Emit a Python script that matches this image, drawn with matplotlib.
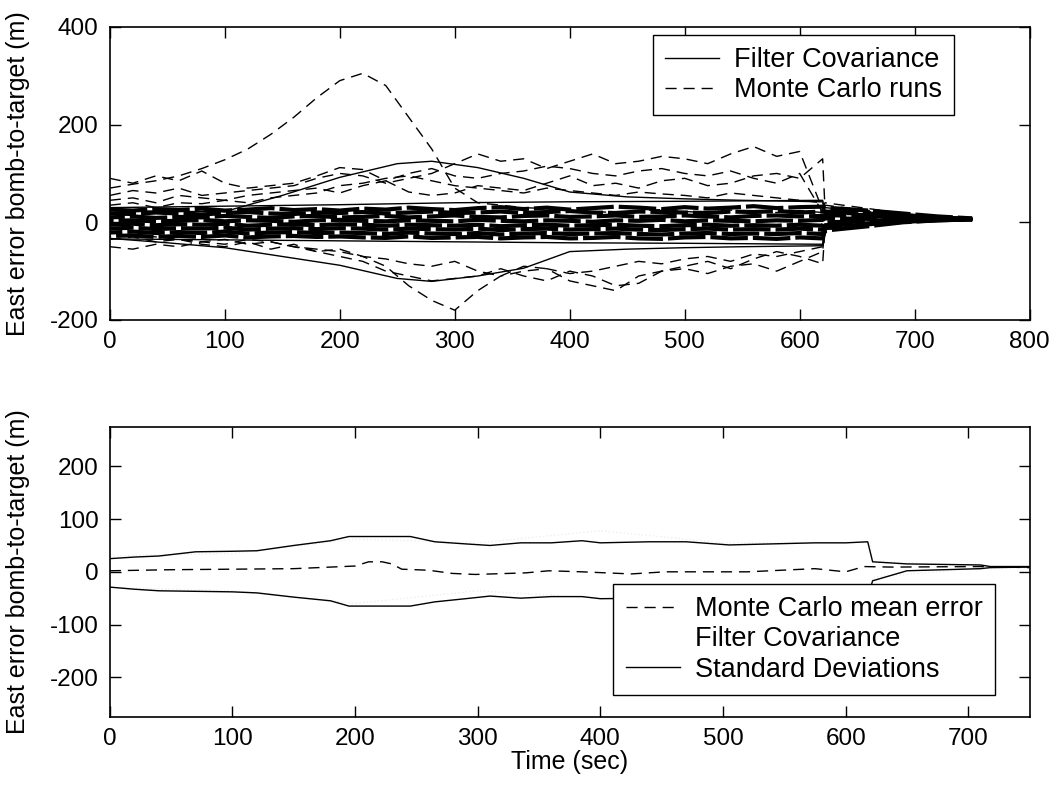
import matplotlib
matplotlib.use('Agg')
import matplotlib.pyplot as plt
from matplotlib.lines import Line2D

plt.rcParams['font.family'] = ['Liberation Sans', 'DejaVu Sans']
plt.rcParams['font.size'] = 16
plt.rcParams['axes.unicode_minus'] = False

# ---------------- top panel data ----------------
# time grid for the Monte Carlo runs (0..620 s, then the tail to 750 s)
t_run = [0, 20, 40, 60, 80, 100, 120, 140, 160, 180, 200, 220, 240, 260, 280, 300,
         320, 340, 360, 380, 400, 420, 440, 460, 480, 500, 520, 540, 560, 580, 600, 620,
         622, 660, 690, 720, 750]

run_peak = [70, 78, 85, 95, 110, 128, 150, 180, 215, 255, 290, 305, 280, 215, 150, 70,
            40, 35, 30, 28, 25, 22, 20, 24, 26, 22, 20, 25, 22, 20, 24, 20,
            18, 14, 11, 8, 6]
run_hi1 = [90, 80, 95, 85, 105, 80, 70, 75, 80, 95, 112, 108, 85, 62, 55, 60,
           75, 70, 65, 80, 95, 75, 80, 70, 85, 90, 75, 80, 95, 100, 90, 130,
           30, 22, 15, 10, 7]
run_hi2 = [55, 65, 60, 70, 55, 60, 65, 70, 75, 90, 100, 95, 80, 90, 100, 120,
           140, 125, 130, 110, 125, 140, 120, 125, 135, 130, 120, 140, 155, 135, 145, 25,
           40, 28, 18, 12, 8]
run_hi3 = [45, 50, 40, 55, 50, 45, 55, 60, 65, 70, 60, 75, 85, 100, 110, 95,
           90, 100, 105, 115, 110, 100, 95, 105, 110, 100, 95, 105, 90, 80, 100, 20,
           25, 20, 14, 10, 6]
run_hi4 = [35, 40, 30, 40, 38, 45, 40, 50, 55, 60, 75, 80, 90, 95, 85, 75,
           70, 65, 60, 70, 65, 60, 55, 62, 58, 55, 50, 60, 55, 50, 45, 40,
           35, 24, 16, 10, 6]
run_lo1 = [-50, -55, -45, -50, -40, -45, -35, -40, -50, -60, -70, -80, -100, -110, -120, -115,
           -110, -95, -110, -120, -100, -110, -130, -125, -100, -90, -80, -95, -75, -60, -70, -85,
           -15, -5, 2, 5, 7]
run_lo2 = [-35, -30, -40, -35, -45, -50, -40, -55, -45, -60, -55, -70, -90, -130, -160, -180,
           -140, -110, -100, -95, -105, -100, -90, -80, -85, -75, -70, -80, -65, -70, -60, -50,
           -12, -4, 3, 6, 8]
run_lo3 = [-20, -25, -30, -35, -40, -35, -45, -40, -50, -55, -60, -70, -75, -85, -90, -80,
           -100, -110, -90, -95, -120, -130, -140, -110, -100, -95, -105, -90, -85, -100, -80, -60,
           -10, -2, 4, 6, 7]
# runs packed into the dark band around zero
band1 = [26, 24, 27, 25, 28, 24, 26, 29, 25, 27, 24, 28, 26, 30, 27, 25,
         29, 31, 27, 30, 26, 29, 32, 30, 27, 31, 28, 30, 33, 29, 31, 32,
         30, 24, 18, 12, 8]
band2 = [18, 17, 20, 18, 16, 19, 21, 18, 17, 20, 19, 21, 18, 20, 22, 19,
         20, 22, 19, 21, 23, 20, 19, 22, 21, 20, 19, 22, 21, 23, 20, 22,
         22, 18, 14, 10, 7]
band3 = [10, 12, 9, 11, 10, 13, 11, 9, 12, 13, 10, 11, 13, 10, 12, 14,
         11, 10, 13, 14, 11, 12, 14, 11, 12, 14, 12, 10, 13, 14, 12, 13,
         15, 12, 10, 8, 7]
band4 = [3, 4, 2, 3, 5, 2, 4, 3, 1, 4, 5, 3, 2, 4, 3, 2,
         5, 3, 2, 4, 3, 1, 4, 3, 5, 2, 4, 3, 2, 4, 3, 5,
         8, 7, 7, 7, 6]
band5 = [-5, -3, -6, -4, -5, -3, -7, -5, -4, -6, -4, -5, -7, -5, -6, -7,
         -5, -8, -6, -5, -7, -6, -5, -7, -8, -6, -5, -7, -6, -7, -5, -7,
         0, 2, 4, 5, 6]
band6 = [-13, -11, -14, -12, -13, -11, -15, -13, -12, -14, -12, -13, -15, -13, -14, -15,
         -13, -16, -14, -13, -15, -14, -13, -15, -16, -14, -13, -15, -14, -15, -13, -15,
         -6, -2, 2, 5, 6]
band7 = [-21, -19, -22, -20, -22, -19, -23, -21, -20, -22, -21, -22, -24, -21, -23, -24,
         -22, -25, -23, -22, -24, -23, -22, -24, -25, -23, -22, -24, -23, -24, -22, -24,
         -10, -4, 1, 4, 6]
band8 = [-28, -27, -30, -28, -30, -27, -31, -29, -28, -30, -29, -31, -32, -29, -32, -31,
         -30, -33, -31, -30, -33, -32, -30, -33, -34, -31, -30, -33, -32, -34, -31, -33,
         -17, -8, 0, 4, 6]

# filter covariance bounds in the top panel
t_cov = [0, 50, 100, 150, 200, 250, 280, 320, 360, 400, 450, 500, 550, 620, 622, 650, 700, 750]
cov_up = [25, 22, 22, 55, 92, 120, 125, 112, 90, 62, 52, 48, 45, 42, 22, 18, 12, 8]
cov_lo = [-33, -42, -52, -70, -88, -115, -121, -110, -94, -60, -55, -52, -50, -48, -15, -8, 0, 5]
t_cov2 = [0, 100, 200, 300, 400, 500, 620, 622, 700, 750]
cov2_up = [30, 33, 36, 40, 42, 43, 45, 20, 12, 8]
cov2_lo = [-34, -36, -38, -40, -42, -43, -45, -10, 2, 5]

# ---------------- bottom panel data ----------------
t_std = [0, 20, 40, 70, 100, 120, 150, 180, 195, 220, 245, 265, 290, 310, 335, 360,
         385, 400, 440, 470, 505, 540, 575, 600, 618, 622, 650, 710, 718, 750]
std_up = [25, 28, 30, 38, 39, 40, 50, 59, 67, 67, 67, 57, 53, 50, 55, 55,
          59, 55, 57, 57, 51, 53, 55, 55, 57, 19, 15, 13, 10, 10]
std_lo = [-29, -33, -36, -37, -38, -40, -48, -55, -65, -65, -65, -57, -51, -46, -50, -47,
          -47, -51, -50, -50, -49, -49, -48, -47, -47, -17, 2, 6, 8, 9]
t_mean = [0, 50, 100, 150, 200, 211, 222, 230, 238, 260, 279, 298, 339, 358, 385, 425,
          453, 480, 520, 575, 600, 615, 637, 710, 750]
mean_err = [2, 4, 5, 6, 11, 19, 19, 15, 5, 3, -3, -5, -2, 2, 0, -4,
            0, 0, 0, 6, 0, 10, 9, 10, 8]
t_fcov = [0, 100, 200, 300, 400, 500, 620, 622, 700, 750]
fcov_up = [30, 35, 62, 55, 78, 55, 55, 20, 12, 10]
fcov_lo = [-30, -36, -60, -36, -50, -50, -50, -10, 5, 8]

mc_runs = [run_peak, run_hi1, run_hi2, run_hi3, run_hi4, run_lo1, run_lo2, run_lo3]
band_runs = [band1, band2, band3, band4, band5, band6, band7, band8]

fig = plt.figure(figsize=(10.56, 7.92), dpi=100)
ax1 = fig.add_axes([0.104, 0.596, 0.871, 0.370])
ax2 = fig.add_axes([0.104, 0.095, 0.871, 0.366])

dash = (0, (8, 5))
leg_kw = dict(fancybox=False, edgecolor='black', framealpha=1, handlelength=2.0,
              handletextpad=0.55, borderaxespad=0, labelspacing=0.15, fontsize=19.5,
              borderpad=0.45)

# top panel
for r in mc_runs:
    ax1.plot(t_run, r, color='black', lw=1.0, linestyle=dash)
for i, r in enumerate(band_runs):
    ax1.plot(t_run, r, color='black', lw=3.0, linestyle=(i * 2.7, (9, 1.2)))
ax1.plot(t_cov, cov_up, color='black', lw=1.0)
ax1.plot(t_cov, cov_lo, color='black', lw=1.0)
ax1.plot(t_cov2, cov2_up, color='black', lw=1.0)
ax1.plot(t_cov2, cov2_lo, color='black', lw=1.0)
ax1.set_xlim(0, 800)
ax1.set_ylim(-200, 400)
ax1.set_xticks(range(0, 801, 100))
ax1.set_yticks([-200, 0, 200, 400])
ax1.set_ylabel('East error bomb-to-target (m)', fontsize=18)
h1 = [Line2D([], [], color='black', lw=1.0),
      Line2D([], [], color='black', lw=1.0, linestyle=dash)]
ax1.legend(h1, ['Filter Covariance', 'Monte Carlo runs'], loc='upper right',
           bbox_to_anchor=(0.918, 0.973), **leg_kw)

# bottom panel
ax2.plot(t_fcov, fcov_up, color='#eeeeee', lw=1.0, linestyle=':')
ax2.plot(t_fcov, fcov_lo, color='#eeeeee', lw=1.0, linestyle=':')
ax2.plot(t_std, std_up, color='black', lw=1.0)
ax2.plot(t_std, std_lo, color='black', lw=1.0)
ax2.plot(t_mean, mean_err, color='black', lw=1.0, linestyle=dash)
ax2.set_xlim(0, 750)
ax2.set_ylim(-275, 275)
ax2.set_xticks(range(0, 701, 100))
ax2.set_yticks([-200, -100, 0, 100, 200])
ax2.set_ylabel('East error bomb-to-target (m)', fontsize=18)
ax2.set_xlabel('Time (sec)', fontsize=18, labelpad=0)
h2 = [Line2D([], [], color='black', lw=1.0, linestyle=dash),
      Line2D([], [], color='white', lw=1.0, linestyle=':'),
      Line2D([], [], color='black', lw=1.0)]
ax2.legend(h2, ['Monte Carlo mean error', 'Filter Covariance', 'Standard Deviations'],
           loc='lower right', bbox_to_anchor=(0.962, 0.076), **leg_kw)

for ax in (ax1, ax2):
    ax.tick_params(direction='in', top=True, right=True, length=8, width=1,
                   labelsize=17.5, pad=8)
    for s in ax.spines.values():
        s.set_linewidth(1.2)
    ax.yaxis.set_label_coords(-0.087, 0.5)

fig.savefig('out.png', dpi=100)
